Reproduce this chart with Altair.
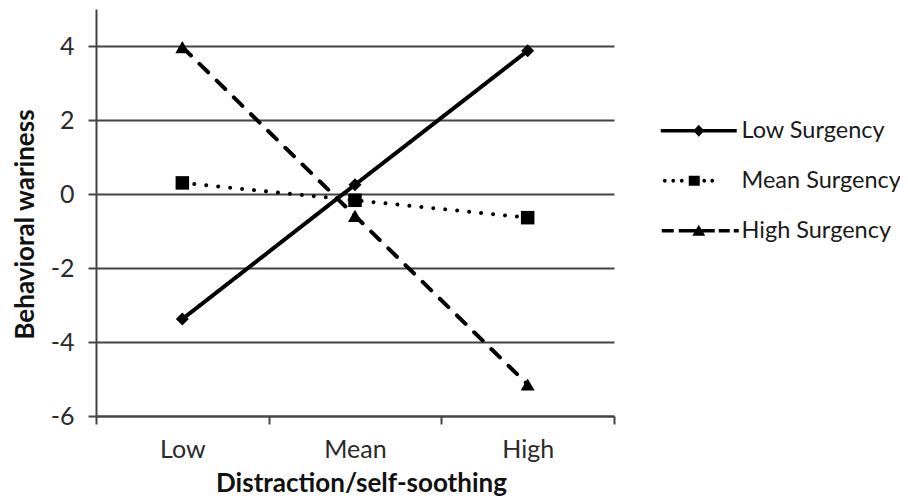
import altair as alt
import pandas as pd

# ---- data ----
levels = ["Low", "Mean", "High"]
series = ["Low Surgency", "Mean Surgency", "High Surgency"]
low_surgency = [-3.38, 0.25, 3.87]
mean_surgency = [0.30, -0.17, -0.64]
high_surgency = [3.97, -0.59, -5.15]
y_ticks = [-6, -4, -2, 0, 2, 4]

rows = []
for name, vals in zip(series, [low_surgency, mean_surgency, high_surgency]):
    for lvl, v in zip(levels, vals):
        rows.append({"level": lvl, "series": name, "value": v})
df = pd.DataFrame(rows)

# ---- legend symbol glyphs (line sample + marker), unit = 10px ----
def rect(a, b, t=0.18):
    return f"M{a},{-t}L{b},{-t}L{b},{t}L{a},{t}Z"

def dot(cx, r=0.19):
    return f"M{cx - r},0a{r} {r} 0 1 0 {2 * r} 0a{r} {r} 0 1 0 {-2 * r} 0Z"

path_low = rect(-3.8, 3.8) + "M0,-0.6L0.55,0L0,0.6L-0.55,0Z"
path_mean = "".join(dot(c) for c in [-3.4, -2.55, -1.7, 0.55, 1.35]) + "M-1.0,-0.5L0.1,-0.5L0.1,0.5L-1.0,0.5Z"
path_high = (rect(-3.7, -2.5) + rect(-2.0, -0.3) + rect(0.3, 1.6) + rect(2.0, 3.1) + rect(3.5, 4.0)
             + "M0,-0.6L0.65,0.5L-0.65,0.5Z")

FONT = "Lato"
AX = "#444444"

x = alt.X(
    "level:N", sort=levels,
    scale=alt.Scale(type="band", paddingInner=0, paddingOuter=0),
    bandPosition=0.5,
    axis=alt.Axis(
        title="Distraction/self-soothing", tickBand="extent", labelAngle=0, grid=False,
        labelFont=FONT, labelFontSize=25, labelColor="#2a2a2a", labelPadding=13,
        tickSize=8, tickWidth=2, tickColor=AX, domainColor=AX, domainWidth=2,
        titleFont=FONT, titleFontSize=26, titleFontWeight="bold", titleColor="#111111",
        titleX=265, titleY=75, titleBaseline="alphabetic", titleAlign="center",
    ),
)
y = alt.Y(
    "value:Q",
    scale=alt.Scale(domain=[-6, 5], nice=False, zero=False),
    axis=alt.Axis(
        values=y_ticks, title="Behavioral wariness", grid=True,
        gridColor=AX, gridWidth=2, gridOpacity=1,
        labelExpr="'' + datum.value",
        labelFont=FONT, labelFontSize=25, labelColor="#2a2a2a", labelPadding=14,
        tickSize=8, tickWidth=2, tickColor=AX, domainColor=AX, domainWidth=2,
        titleFont=FONT, titleFontSize=26, titleFontWeight="bold", titleColor="#111111",
        titleX=-63, titleY=215, titleBaseline="alphabetic", titleAlign="center", titleAngle=270,
    ),
)

lines = alt.Chart(df).mark_line(color="black", strokeWidth=4, strokeCap="round").encode(
    x=x, y=y,
    strokeDash=alt.StrokeDash(
        "series:N",
        scale=alt.Scale(domain=series, range=[[1, 0], [0.01, 12], [12, 12]]),
        legend=None,
    ),
)

points = alt.Chart(df).mark_point(filled=True, color="black", opacity=1).encode(
    x=x, y=y,
    shape=alt.Shape("series:N", scale=alt.Scale(domain=series, range=["diamond", "square", "triangle-up"]), legend=None),
    size=alt.Size("series:N", scale=alt.Scale(domain=series, range=[169, 196, 256]), legend=None),
)

legend_layer = alt.Chart(df).transform_filter("false").mark_point(filled=True, color="black", opacity=1).encode(
    shape=alt.Shape(
        "series:N",
        scale=alt.Scale(domain=series, range=[path_low, path_mean, path_high]),
        legend=alt.Legend(
            title=None, orient="none", legendX=591, legendY=110, padding=0,
            symbolSize=400, symbolFillColor="black", symbolStrokeWidth=0, symbolOpacity=1,
            labelFont=FONT, labelFontSize=23.5, labelColor="#1a1a1a", labelOffset=31, labelLimit=400,
            rowPadding=25,
        ),
    ),
)

chart = alt.layer(lines, points, legend_layer).resolve_scale(
    shape="independent", size="independent", strokeDash="independent"
).properties(
    width=518, height=407,
    padding={"left": 88, "top": 1, "right": 286, "bottom": 82},
    autosize=alt.AutoSizeParams(type="none"),
).configure_view(stroke=None)

chart.save("out.html", embed_options={"renderer": "svg", "actions": False})
